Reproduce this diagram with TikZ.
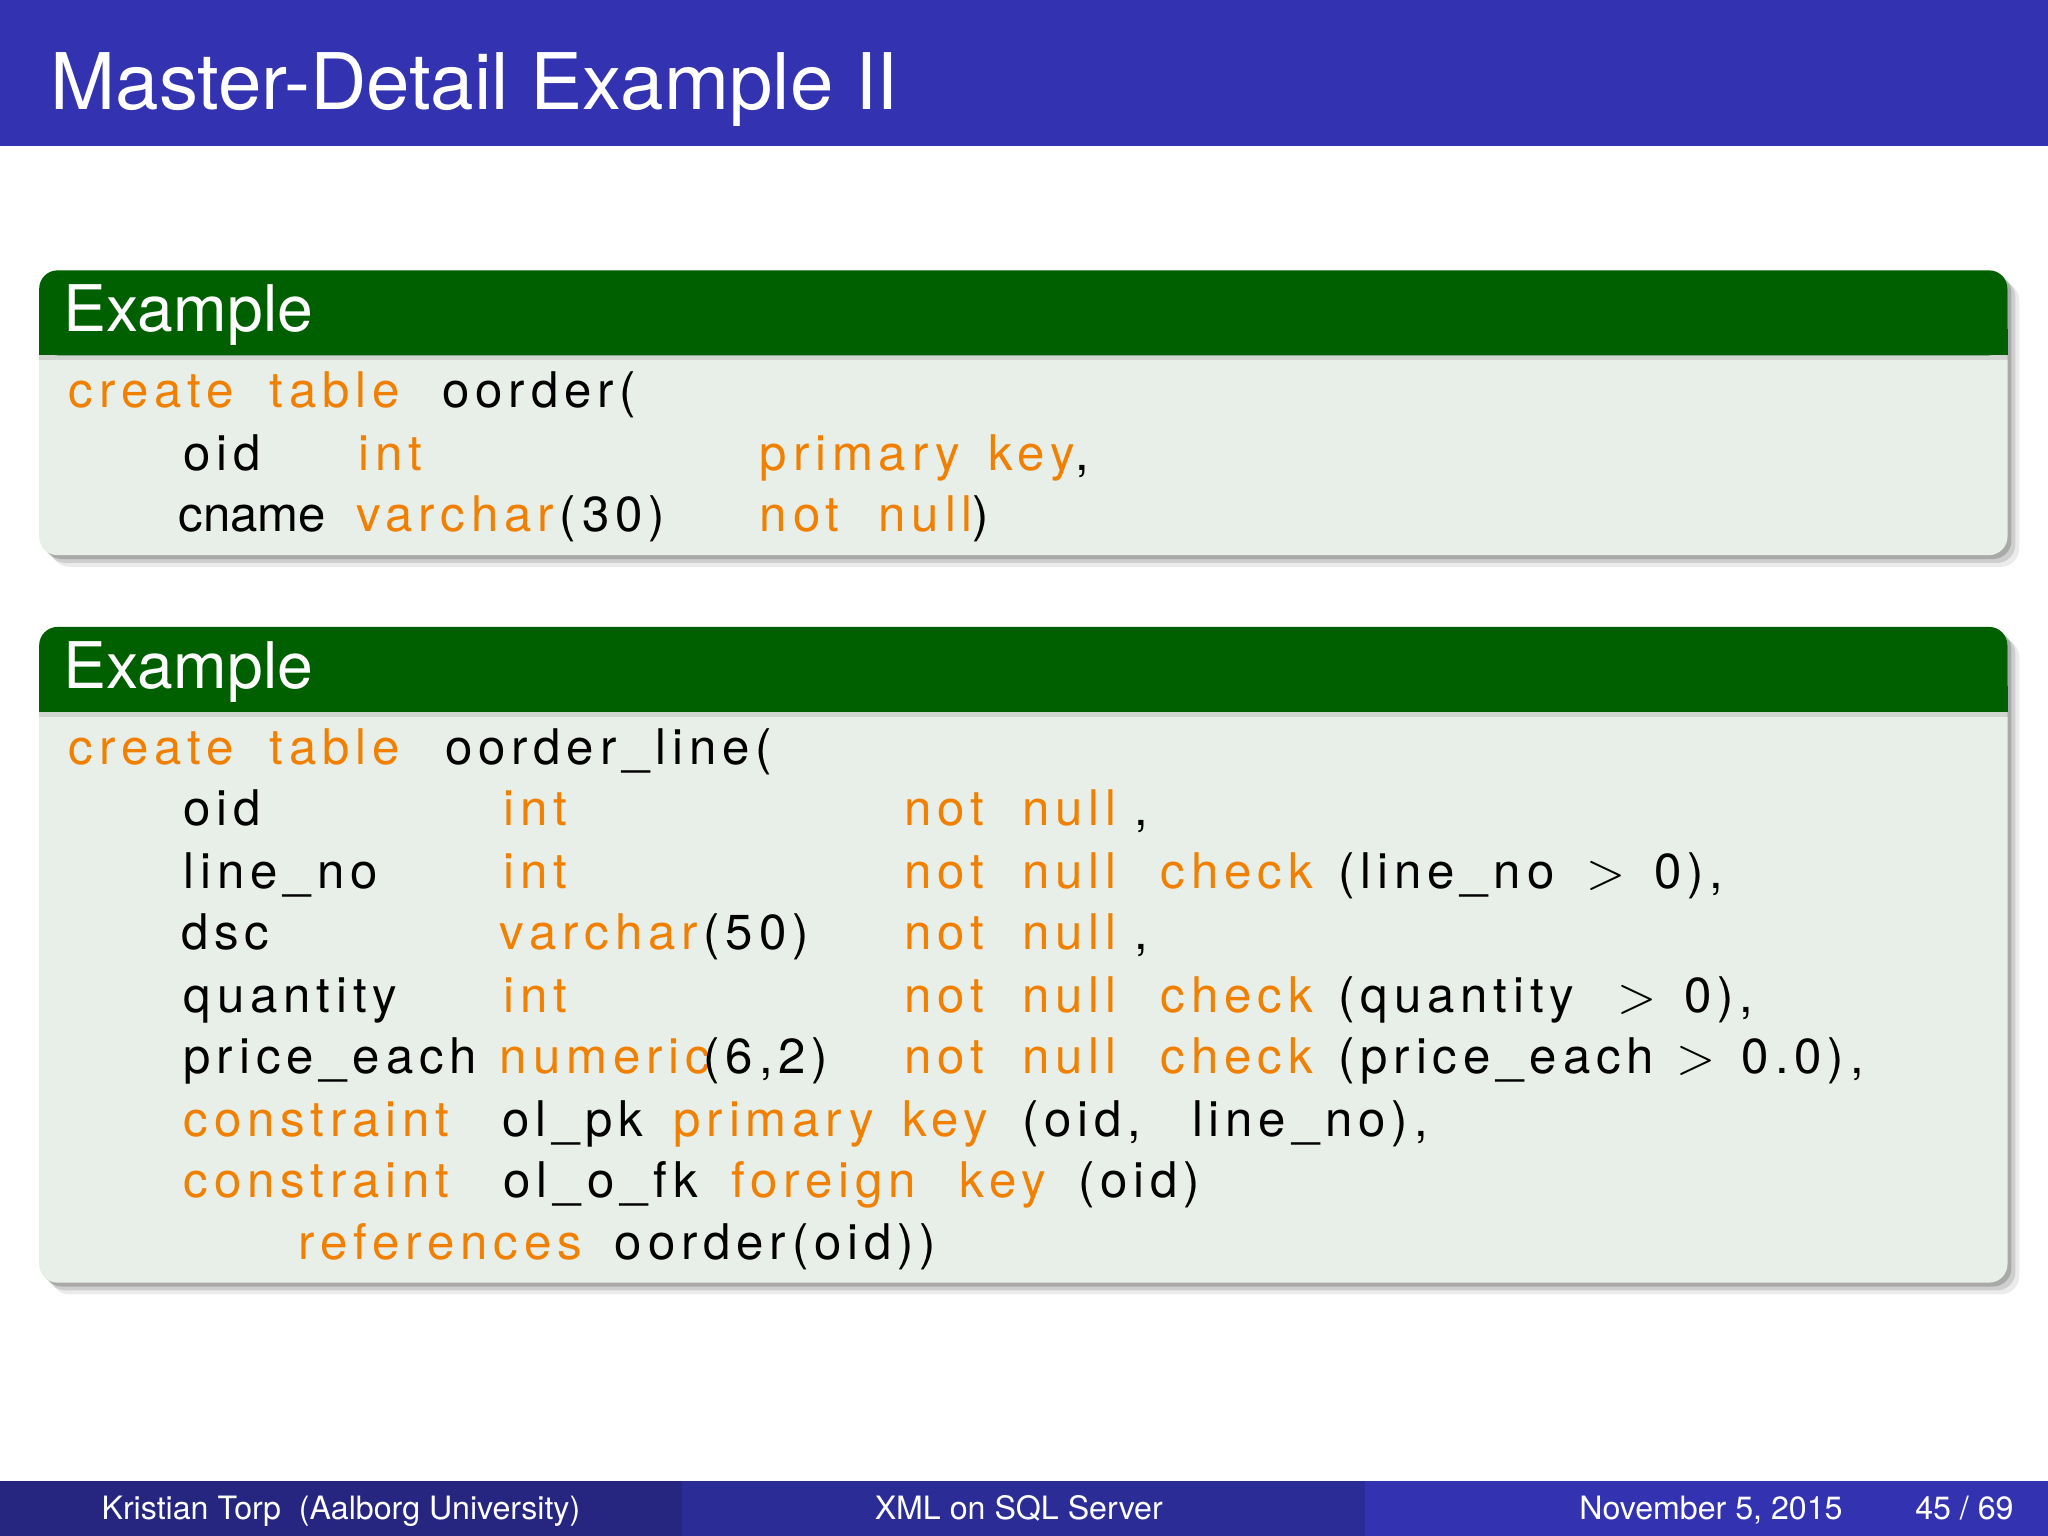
\documentclass[tikz,border=0pt]{standalone}
\usepackage{fontspec}
\setmainfont{TeX Gyre Heros}
\usetikzlibrary{positioning}
\definecolor{barblue}{RGB}{51,51,178}
\definecolor{footA}{RGB}{38,38,128}
\definecolor{footB}{RGB}{44,44,150}
\definecolor{blkgreen}{RGB}{0,96,0}
\definecolor{blkbody}{RGB}{232,238,232}
\definecolor{kwcol}{RGB}{242,128,0}
\newcommand{\kw}[1]{\textcolor{kwcol}{#1}}
\tikzset{
  tok/.style = {anchor=base west, inner sep=0pt, font=\fontsize{10.7pt}{12pt}\selectfont\addfontfeature{LetterSpace=12}},
  blkhead/.style = {anchor=base west, inner sep=0pt, text=white, font=\fontsize{14pt}{16pt}\selectfont},
  foottext/.style = {anchor=base, inner sep=0pt, text=white, font=\fontsize{7pt}{8pt}\selectfont}
}
\newcommand{\tok}[3]{\node[tok] at (#1,#2) {#3};}
\newcommand{\codeblock}[3]{% top, bottom, header bottom
  \foreach \s/\o in {9/0.08,6/0.12,3/0.18}
    \fill[black, opacity=\o, rounded corners=4pt] (30+\s,#1+\s) rectangle (1537+\s,#2+\s);
  \fill[blkbody, rounded corners=4pt] (30,#1) rectangle (1537,#2);
  \fill[blkgreen, rounded corners=4pt] (30,#1) rectangle (1537,#3);
  \fill[blkgreen] (30,#3-20) rectangle (1537,#3);
  \fill[black, opacity=0.1] (30,#3) rectangle (1537,#3+4);
}
\begin{document}
\begin{tikzpicture}[x=0.01cm, y=-0.01cm]
  \useasboundingbox (0,0) rectangle (1568,1176);
  % title bar
  \fill[barblue] (0,0) rectangle (1568,112);
  \node[anchor=base west, inner sep=0pt, text=white, font=\fontsize{17pt}{20pt}\selectfont] (title) at (38,84) {Master-Detail Example II};

  % first block
  \codeblock{207}{425}{272}
  \node[blkhead] (head1) at (48,254) {Example};
  \tok{52}{312}{\kw{create}} \tok{206}{312}{\kw{table}} \tok{338}{312}{oorder(}
  \tok{140}{360}{oid} \tok{274}{360}{\kw{int}} \tok{581}{360}{\kw{primary}} \tok{756}{360}{\kw{key}} \tok{823}{360}{,}
  \node[tok, font=\fontsize{10.7pt}{12pt}\selectfont] at (136,407) {cname};
  \tok{272}{407}{\kw{varchar}} \tok{428}{407}{(30)} \tok{581}{407}{\kw{not}} \tok{672}{407}{\kw{null})}

  % second block
  \codeblock{480}{982}{545}
  \node[blkhead] (head2) at (48,527) {Example};
  \tok{52}{585}{\kw{create}} \tok{206}{585}{\kw{table}} \tok{340}{585}{oorder\_line(}
  \tok{140}{632}{oid} \tok{385}{632}{\kw{int}} \tok{692}{632}{\kw{not}} \tok{782}{632}{\kw{null}} \tok{868}{632}{,}
  \tok{140}{680}{line\_no} \tok{385}{680}{\kw{int}} \tok{692}{680}{\kw{not}} \tok{782}{680}{\kw{null}} \tok{888}{680}{\kw{check}} \tok{1024}{680}{(line\_no} \tok{1214}{680}{$>$} \tok{1266}{680}{0),}
  \tok{138}{727}{dsc} \tok{382}{727}{\kw{varchar}} \tok{538}{727}{(50)} \tok{692}{727}{\kw{not}} \tok{782}{727}{\kw{null}} \tok{868}{727}{,}
  \tok{140}{775}{quantity} \tok{385}{775}{\kw{int}} \tok{692}{775}{\kw{not}} \tok{782}{775}{\kw{null}} \tok{888}{775}{\kw{check}} \tok{1024}{775}{(quantity} \tok{1238}{775}{$>$} \tok{1289}{775}{0),}
  \tok{140}{822}{price\_each} \tok{382}{822}{\kw{numeric}} \tok{538}{822}{(6,2)} \tok{692}{822}{\kw{not}} \tok{782}{822}{\kw{null}} \tok{888}{822}{\kw{check}} \tok{1024}{822}{(price\_each} \tok{1283}{822}{$>$} \tok{1333}{822}{0.0),}
  \tok{140}{870}{\kw{constraint}} \tok{384}{870}{ol\_pk} \tok{515}{870}{\kw{primary}} \tok{690}{870}{\kw{key}} \tok{782}{870}{(oid,} \tok{912}{870}{line\_no),}
  \tok{140}{917}{\kw{constraint}} \tok{385}{917}{ol\_o\_fk} \tok{559}{917}{\kw{foreign}} \tok{734}{917}{\kw{key}} \tok{825}{917}{(oid)}
  \tok{228}{964}{\kw{references}} \tok{470}{964}{oorder(oid))}

  % footer
  \fill[footA] (0,1134) rectangle (522,1176);
  \fill[footB] (522,1134) rectangle (1045,1176);
  \fill[barblue] (1045,1134) rectangle (1568,1176);
  \node[foottext] (author) at (261,1163) {Kristian Torp\ \ (Aalborg University)};
  \node[foottext] (talk) at (780,1163) {XML on SQL Server};
  \node[foottext] (date) at (1310,1163) {November 5, 2015};
  \node[foottext] (page) at (1504,1163) {45 / 69};
\end{tikzpicture}
\end{document}
